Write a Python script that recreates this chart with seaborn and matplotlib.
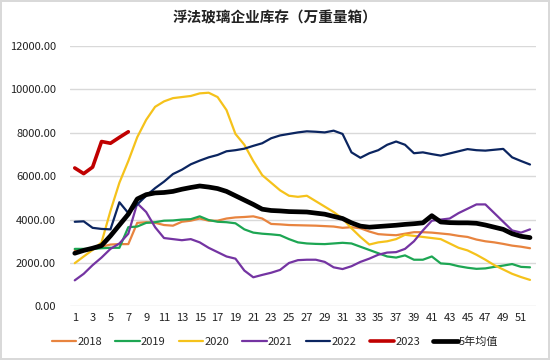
import numpy as np
import pandas as pd
import matplotlib
matplotlib.use('Agg')
import matplotlib.pyplot as plt
import seaborn as sns
from matplotlib.ticker import FormatStrFormatter

weeks = list(range(1, 53))

y2018 = [2600, 2620, 2650, 2750, 2850, 2870, 2870, 3850, 3880, 3850,
         3750, 3720, 3900, 3950, 4050, 3950, 3950, 4050, 4100, 4120,
         4150, 4050, 3800, 3780, 3750, 3740, 3730, 3720, 3700, 3680,
         3620, 3650, 3600, 3450, 3330, 3300, 3280, 3350, 3420, 3420,
         3400, 3360, 3320, 3250, 3200, 3080, 3000, 2950, 2880, 2800,
         2750, 2680]
y2019 = [2650, 2650, 2650, 2680, 2700, 2700, 3650, 3680, 3850, 3880,
         3950, 3960, 4000, 4020, 4150, 3980, 3900, 3880, 3830, 3550,
         3400, 3350, 3320, 3280, 3100, 2950, 2900, 2880, 2870, 2900,
         2930, 2900, 2750, 2600, 2450, 2300, 2250, 2350, 2150, 2150,
         2300, 1980, 1950, 1850, 1780, 1730, 1750, 1820, 1880, 1950,
         1820, 1800]
y2020 = [1990, 2300, 2600, 2950, 4400, 5700, 6700, 7800, 8600, 9200,
         9450, 9600, 9650, 9700, 9820, 9850, 9650, 9050, 7950, 7450,
         6700, 6050, 5700, 5350, 5100, 5050, 5100, 4850, 4600, 4350,
         4050, 3600, 3200, 2850, 2950, 3000, 3100, 3300, 3250, 3200,
         3150, 3100, 2900, 2700, 2580, 2380, 2150, 1900, 1700, 1500,
         1350, 1220]
y2021 = [1200, 1500, 1900, 2250, 2650, 2900, 3350, 4750, 4350, 3650,
         3150, 3100, 3050, 3100, 2950, 2700, 2500, 2300, 2200, 1650,
         1340, 1450, 1550, 1680, 2000, 2130, 2150, 2150, 2050, 1800,
         1720, 1850, 2050, 2200, 2380, 2480, 2500, 2650, 3000, 3500,
         3950, 4000, 4050, 4300, 4500, 4700, 4700, 4300, 3900, 3500,
         3400, 3550]
y2022 = [3900, 3920, 3620, 3570, 3550, 4800, 4300, 4700, 5100, 5450,
         5750, 6100, 6300, 6550, 6720, 6870, 6980, 7150, 7200, 7270,
         7400, 7520, 7750, 7880, 7950, 8020, 8070, 8050, 8020, 8100,
         7950, 7100, 6850, 7060, 7200, 7450, 7600, 7450, 7060, 7100,
         7020, 6950, 7050, 7150, 7250, 7200, 7180, 7220, 7260, 6870,
         6700, 6540]
y2023 = [6380, 6120, 6420, 7600, 7520, 7790, 8050]
avg5 = [2450, 2580, 2680, 2800, 3250, 3750, 4250, 4950, 5150, 5230,
        5250, 5300, 5400, 5480, 5550, 5500, 5430, 5300, 5100, 4900,
        4700, 4480, 4420, 4400, 4370, 4360, 4350, 4300, 4250, 4150,
        4050, 3850, 3700, 3650, 3680, 3710, 3740, 3780, 3810, 3850,
        4180, 3890, 3860, 3850, 3850, 3830, 3750, 3650, 3550, 3350,
        3230, 3170]

names = ['2018', '2019', '2020', '2021', '2022', '2023', '5年均值']
series = [y2018, y2019, y2020, y2021, y2022, y2023, avg5]
colors = ['#E8843F', '#1DA653', '#F5C21B', '#7434A2', '#0B2560', '#C00000', '#000000']
widths = [1.6, 1.6, 1.6, 1.6, 1.6, 2.6, 3.4]

rows = []
for name, vals in zip(names, series):
    for w, v in zip(weeks, vals):
        rows.append({'week': w, 'value': v, 'series': name})
df = pd.DataFrame(rows)

sns.set_style('white')
plt.rcParams['font.family'] = ['Noto Sans CJK SC', 'DejaVu Sans']

fig = plt.figure(figsize=(5.5, 3.6), dpi=100)
fig.patch.set_edgecolor('#d9d9d9')
fig.patch.set_linewidth(1.5)
ax = fig.add_axes([0.127, 0.149, 0.848, 0.723])

sns.lineplot(data=df, x='week', y='value', hue='series', size='series',
             hue_order=names, size_order=names,
             palette=dict(zip(names, colors)), sizes=dict(zip(names, widths)),
             ax=ax, legend=False)

ax.set_xlim(0.45, 52.7)
ax.set_ylim(0, 12000)
ax.set_yticks(np.arange(0, 12001, 2000))
ax.yaxis.set_major_formatter(FormatStrFormatter('%.2f'))
ax.set_xticks(list(range(1, 53, 2)))
ax.tick_params(axis='both', labelsize=8, length=0, colors='#222222')
ax.tick_params(axis='y', pad=10)
ax.tick_params(axis='x', pad=5)
ax.grid(axis='y', color='#d9d9d9', linewidth=1)
ax.set_axisbelow(True)
for s in ax.spines.values():
    s.set_visible(False)
ax.set_xlabel('')
ax.set_ylabel('')

fig.suptitle('浮法玻璃企业库存（万重量箱）', y=0.975, fontsize=10.5, fontweight='bold', color='#222222')

handles = [plt.Line2D([], [], color=c, lw=lw) for c, lw in zip(colors, widths)]
fig.legend(handles, names, loc='center', bbox_to_anchor=(0.5, 0.05), ncol=7,
           frameon=False, fontsize=8, handlelength=2.2, handletextpad=0.1, columnspacing=1.2)

fig.savefig('out.png', dpi=100)
